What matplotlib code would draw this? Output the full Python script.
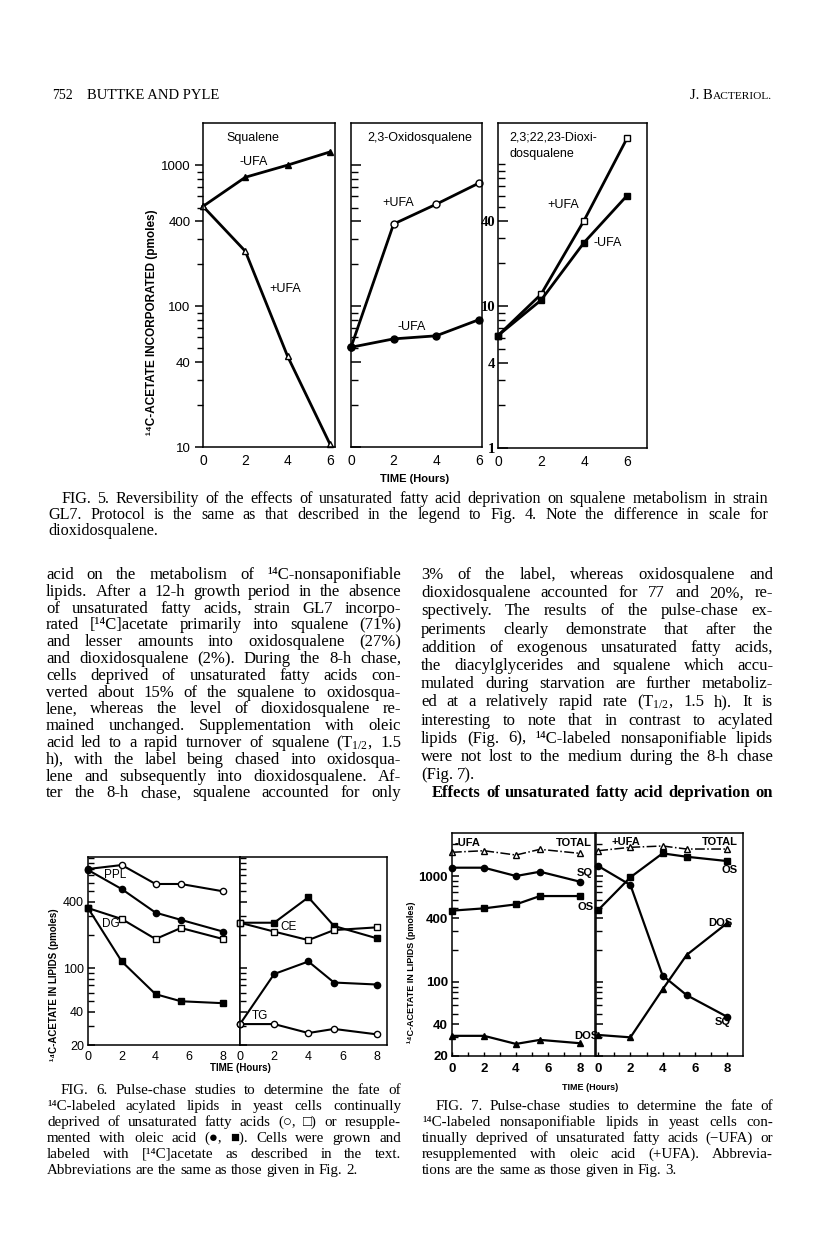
import matplotlib
matplotlib.use('Agg')
import matplotlib.pyplot as plt
from matplotlib.ticker import FixedLocator, FixedFormatter, NullFormatter

W, H = 816, 1242
SERIF = ['Liberation Serif', 'DejaVu Serif', 'DejaVu Sans']
SANS = ['Liberation Sans', 'DejaVu Sans']
NARROW = ['Liberation Sans Narrow', 'Liberation Sans', 'DejaVu Sans']

plt.rcParams['mathtext.fontset'] = 'custom'
plt.rcParams['mathtext.rm'] = 'Liberation Serif'
plt.rcParams['mathtext.it'] = 'Liberation Serif:italic'
plt.rcParams['mathtext.bf'] = 'Liberation Serif:bold'

C14 = "\u00b9\u2074C"

# ---- Fig. 5 data (pmoles) ----
t5 = [0, 2, 4, 6]
sq_minus = [510, 820, 1000, 1240]
sq_plus = [510, 245, 44, 10.5]
os_plus = [51, 382, 528, 745]
os_minus = [51, 58.5, 61.5, 80]
dos_plus = [6.2, 12.1, 40, 152]
dos_minus = [6.2, 11, 28, 60]

# ---- Fig. 6 data ----
t6 = [0, 2, 4, 5.5, 8]
ppl_minus = [798, 867, 583, 583, 500]
ppl_plus = [782, 524, 320, 275, 215]
dg_minus = [352, 280, 184, 232, 184]
dg_plus = [352, 115, 58, 50, 48]
ce_plus = [259, 259, 441, 242, 187]
ce_minus = [259, 215, 180, 222, 235]
tg_plus = [31, 88.5, 115, 74, 71]
tg_minus = [31, 31, 25.7, 28, 25]

# ---- Fig. 7 data ----
t7 = [0, 2, 4, 5.5, 8]
m_total = [1675, 1733, 1578, 1786, 1636]
m_sq = [1198, 1198, 1000, 1098, 884]
m_os = [471, 495, 540, 647, 647]
m_dos = [31, 31, 26, 28.4, 26.4]
p_total = [1733, 1866, 1920, 1798, 1798]
p_os = [478, 973, 1636, 1520, 1385]
p_sq = [1242, 822, 115, 75, 47]
p_dos = [31.6, 30, 85, 180, 358]

# ---- page text ----
left_col = [
    "acid on the metabolism of " + C14 + "-nonsaponifiable",
    "lipids. After a 12-h growth period in the absence",
    "of unsaturated fatty acids, strain GL7 incorpo-",
    "rated [" + C14 + "]acetate primarily into squalene (71%)",
    "and lesser amounts into oxidosqualene (27%)",
    "and dioxidosqualene (2%). During the 8-h chase,",
    "cells deprived of unsaturated fatty acids con-",
    "verted about 15% of the squalene to oxidosqua-",
    "lene, whereas the level of dioxidosqualene re-",
    "mained unchanged. Supplementation with oleic",
    "acid led to a rapid turnover of squalene (T$_{1/2}$, 1.5",
    "h), with the label being chased into oxidosqua-",
    "lene and subsequently into dioxidosqualene. Af-",
    "ter the 8-h chase, squalene accounted for only",
]
right_col = [
    "3% of the label, whereas oxidosqualene and",
    "dioxidosqualene accounted for 77 and 20%, re-",
    "spectively. The results of the pulse-chase ex-",
    "periments clearly demonstrate that after the",
    "addition of exogenous unsaturated fatty acids,",
    "the diacylglycerides and squalene which accu-",
    "mulated during starvation are further metaboliz-",
    "ed at a relatively rapid rate (T$_{1/2}$, 1.5 h). It is",
    "interesting to note that in contrast to acylated",
    "lipids (Fig. 6), " + C14 + "-labeled nonsaponifiable lipids",
    "were not lost to the medium during the 8-h chase",
    "(Fig. 7).",
]
heading = "Effects of unsaturated fatty acid deprivation on"
cap5 = [
    "FIG. 5. Reversibility of the effects of unsaturated fatty acid deprivation on squalene metabolism in strain",
    "GL7. Protocol is the same as that described in the legend to Fig. 4. Note the difference in scale for",
    "dioxidosqualene.",
]
cap6 = [
    "FIG. 6. Pulse-chase studies to determine the fate of",
    C14 + "-labeled acylated lipids in yeast cells continually",
    "deprived of unsaturated fatty acids (\u25cb, \u25a1) or resupple-",
    "mented with oleic acid (\u25cf, \u25a0). Cells were grown and",
    "labeled with [" + C14 + "]acetate as described in the text.",
    "Abbreviations are the same as those given in Fig. 2.",
]
cap7 = [
    "FIG. 7. Pulse-chase studies to determine the fate of",
    C14 + "-labeled nonsaponifiable lipids in yeast cells con-",
    "tinually deprived of unsaturated fatty acids (\u2212UFA) or",
    "resupplemented with oleic acid (+UFA). Abbrevia-",
    "tions are the same as those given in Fig. 3.",
]

fig = plt.figure(figsize=(W / 100, H / 100), dpi=100)
fig.patch.set_facecolor('white')
renderer = fig.canvas.get_renderer()


def fx(x):
    return x / W


def fy(y):
    return 1 - y / H


def ptext(x, y, s, **kw):
    return fig.text(fx(x), fy(y), s, **kw)


def line_text(x0, x1, yb, text, size=10, weight='normal', justify=True, family=SERIF):
    words = text.split()
    n = len(words)
    while True:
        objs = [ptext(x0, yb, w, fontsize=size, fontweight=weight, family=family,
                      va='baseline', ha='left') for w in words]
        widths = [o.get_window_extent(renderer).width for o in objs]
        normal = size * 0.25 * 100 / 72
        if sum(widths) + 1.0 * normal * (n - 1) <= (x1 - x0) or size < 6:
            break
        for o in objs:
            o.remove()
        size -= 0.2
    if justify and n > 1:
        gap = (x1 - x0 - sum(widths)) / (n - 1)
    else:
        gap = normal
    x = x0
    for o, w in zip(objs, widths):
        o.set_x(fx(x))
        x += w + gap


def block(lines, x0, x1, y0, step, size, indent=0, last_justify=False, weight='normal'):
    for i, s in enumerate(lines):
        last = (i == len(lines) - 1)
        line_text(x0 + (indent if i == 0 else 0), x1, y0 + i * step, s, size=size,
                  justify=(not last) or last_justify, weight=weight)


def add_ax(x0, y0, x1, y1):
    ax = fig.add_axes([x0 / W, 1 - y1 / H, (x1 - x0) / W, (y1 - y0) / H])
    ax.set_yscale('log')
    for sp in ax.spines.values():
        sp.set_linewidth(1.1)
    return ax


def log_ticks(ax, lo, hi, labels, direction='in', majlen=6, minlen=4, show=True):
    minors = [m * 10 ** e for e in range(-1, 5) for m in range(1, 10)
              if lo <= m * 10 ** e <= hi and m * 10 ** e not in labels]
    ax.yaxis.set_major_locator(FixedLocator(labels))
    if show:
        ax.yaxis.set_major_formatter(FixedFormatter([str(v) for v in labels]))
    else:
        ax.yaxis.set_major_formatter(NullFormatter())
    ax.yaxis.set_minor_locator(FixedLocator(minors))
    ax.yaxis.set_minor_formatter(NullFormatter())
    ax.tick_params(axis='y', which='major', direction=direction, length=majlen, width=1.1)
    ax.tick_params(axis='y', which='minor', direction=direction, length=minlen, width=1.0)


# ---------------- header ----------------
ptext(52, 99, "752", fontsize=10, family=SERIF, va='baseline')
ptext(87, 99, "BUTTKE AND PYLE", fontsize=10.5, family=SERIF, va='baseline')
tj = ptext(690, 99, "J. B", fontsize=10.5, family=SERIF, va='baseline')
wj = tj.get_window_extent(renderer).width
ptext(690 + wj, 99, "ACTERIOL.", fontsize=8.2, family=SERIF, va='baseline')

# ---------------- Fig. 5 ----------------
lw5 = 2.0
ms5 = 5
a1 = add_ax(203, 123, 335, 447)
a1.plot(t5, sq_minus, '-^', color='k', lw=lw5, ms=ms5, mfc='k', clip_on=False)
a1.plot(t5, sq_plus, '-^', color='k', lw=lw5, ms=ms5, mfc='white', clip_on=False)
a1.set_xlim(0, 6.24)
a1.set_ylim(10, 1990)
log_ticks(a1, 10, 1990, [10, 40, 100, 400, 1000], direction='out', majlen=6, minlen=4)

a2 = add_ax(351, 123, 482, 447)
a2.plot(t5, os_plus, '-o', color='k', lw=lw5, ms=ms5, mfc='white', clip_on=False)
a2.plot(t5, os_minus, '-o', color='k', lw=lw5, ms=ms5, mfc='k', clip_on=False)
a2.set_xlim(0, 6.15)
a2.set_ylim(10, 1990)
log_ticks(a2, 10, 1990, [10, 40, 100, 400, 1000], direction='in', majlen=7, minlen=5, show=False)

a3 = add_ax(498, 123, 647, 448)
a3.plot(t5, dos_plus, '-s', color='k', lw=lw5, ms=ms5, mfc='white', clip_on=False)
a3.plot(t5, dos_minus, '-s', color='k', lw=lw5, ms=ms5, mfc='k', clip_on=False)
a3.set_xlim(0, 6.93)
a3.set_ylim(1, 195)
log_ticks(a3, 1, 195, [1, 4, 10, 40], direction='in', majlen=7, minlen=5)

for ax in (a1, a2, a3):
    ax.set_xticks([0, 2, 4, 6])
    ax.tick_params(axis='x', length=0, pad=5, labelsize=10)
    ax.tick_params(axis='y', labelsize=9.5, pad=3)
    for lab in ax.get_xticklabels() + ax.get_yticklabels():
        lab.set_family(SANS)
a3.tick_params(axis='y', labelsize=10.5, pad=2)
for lab in a3.get_yticklabels():
    lab.set_fontweight('bold')
    lab.set_family(SERIF)

ptext(152, 322, C14 + "-ACETATE INCORPORATED (pmoles)", rotation=90, fontsize=8.5,
      fontweight='bold', family=NARROW, ha='center', va='center')
ptext(415, 479, "TIME (Hours)", fontsize=8, fontweight='bold', family=NARROW,
      ha='center', va='center')
f5 = dict(fontsize=9, family=SANS, va='center')
ptext(226, 138, "Squalene", **f5)
ptext(240, 162, "-UFA", **f5)
ptext(269, 289, "+UFA", **f5)
ptext(367, 138, "2,3-Oxidosqualene", **f5)
ptext(382, 203, "+UFA", **f5)
ptext(398, 327, "-UFA", **f5)
ptext(509, 138, "2,3;22,23-Dioxi-", **f5)
ptext(509, 154, "dosqualene", **f5)
ptext(547, 205, "+UFA", **f5)
ptext(593, 243, "-UFA", **f5)

block(cap5, 48, 768, 503, 16, 11.6, indent=13)

# ---------------- body text ----------------
block(left_col, 46, 401, 579, 16.8, 12.0, last_justify=True)
rstep = (13 * 16.8) / 12
block(right_col, 421, 773, 579, rstep, 12.0)
line_text(432, 773, 579 + 13 * 16.8, heading, size=12.0, weight='bold')

# ---------------- Fig. 6 ----------------
lw6 = 1.5
ms6 = 4.5
b1 = add_ax(88, 857, 240, 1045)
b1.plot(t6, ppl_minus, '-o', color='k', lw=lw6, ms=ms6, mfc='white', clip_on=False)
b1.plot(t6, ppl_plus, '-o', color='k', lw=lw6, ms=ms6, mfc='k', clip_on=False)
b1.plot(t6, dg_minus, '-s', color='k', lw=lw6, ms=ms6, mfc='white', clip_on=False)
b1.plot(t6, dg_plus, '-s', color='k', lw=lw6, ms=ms6, mfc='k', clip_on=False)
b1.set_xlim(0, 9)
b2 = add_ax(240, 857, 387, 1045)
b2.plot(t6, ce_plus, '-s', color='k', lw=lw6, ms=ms6, mfc='k', clip_on=False)
b2.plot(t6, ce_minus, '-s', color='k', lw=lw6, ms=ms6, mfc='white', clip_on=False)
b2.plot(t6, tg_plus, '-o', color='k', lw=lw6, ms=ms6, mfc='k', clip_on=False)
b2.plot(t6, tg_minus, '-o', color='k', lw=lw6, ms=ms6, mfc='white', clip_on=False)
b2.set_xlim(0, 8.6)
for ax, show in ((b1, True), (b2, False)):
    ax.set_ylim(20, 1026)
    log_ticks(ax, 20, 1026, [20, 40, 100, 400], direction='in', majlen=5, minlen=4, show=show)
    ax.set_xticks([0, 2, 4, 6, 8])
    ax.tick_params(axis='x', length=0, pad=4, labelsize=9)
    ax.tick_params(axis='y', labelsize=9, pad=3)
    for lab in ax.get_xticklabels() + ax.get_yticklabels():
        lab.set_family(SANS)
ptext(54, 985, C14 + "-ACETATE IN LIPIDS (pmoles)", rotation=90, fontsize=7,
      fontweight='bold', family=NARROW, ha='center', va='center')
ptext(240, 1068, "TIME (Hours)", fontsize=7, fontweight='bold', family=NARROW,
      ha='center', va='center')
f6 = dict(fontsize=8.5, family=SANS, va='center')
ptext(104, 875, "PPL", **f6)
ptext(102, 924, "DG", **f6)
ptext(280, 927, "CE", **f6)
ptext(252, 1016, "TG", **f6)

block(cap6, 47, 401, 1094, 16, 10.8, indent=14)

# ---------------- Fig. 7 ----------------
lw7 = 1.6
ms7 = 4.5
c1 = add_ax(452, 833, 595, 1056)
c1.plot(t7, m_total, '-.^', color='k', lw=1.1, ms=ms7, mfc='white', clip_on=False)
c1.plot(t7, m_sq, '-o', color='k', lw=lw7, ms=ms7, mfc='k', clip_on=False)
c1.plot(t7, m_os, '-s', color='k', lw=lw7, ms=ms7, mfc='k', clip_on=False)
c1.plot(t7, m_dos, '-^', color='k', lw=lw7, ms=ms7, mfc='k', clip_on=False)
c1.set_xlim(0, 8.94)
c2 = add_ax(596, 833, 743, 1056)
c2.plot(t7, p_total, '-.^', color='k', lw=1.1, ms=ms7, mfc='white', clip_on=False)
c2.plot(t7, p_os, '-s', color='k', lw=lw7, ms=ms7, mfc='k', clip_on=False)
c2.plot(t7, p_sq, '-o', color='k', lw=lw7, ms=ms7, mfc='k', clip_on=False)
c2.plot(t7, p_dos, '-^', color='k', lw=lw7, ms=ms7, mfc='k', clip_on=False)
c2.set_xlim(-0.14, 9.0)
for ax, show in ((c1, True), (c2, False)):
    ax.set_ylim(20, 2547)
    log_ticks(ax, 20, 2547, [20, 40, 100, 400, 1000], direction='in', majlen=5, minlen=4, show=show)
    ax.set_xticks([0, 2, 4, 6, 8])
    ax.xaxis.set_minor_locator(FixedLocator([1, 3, 5, 7]))
    ax.tick_params(axis='x', which='both', direction='in', length=3, width=1.0, pad=5, labelsize=9.5)
    ax.tick_params(axis='y', labelsize=9.5, pad=3)
    for lab in ax.get_xticklabels() + ax.get_yticklabels():
        lab.set_family(SANS)
        lab.set_fontweight('bold')
ptext(412, 972, C14 + "-ACETATE IN LIPIDS (pmoles)", rotation=90, fontsize=6.5,
      fontweight='bold', family=NARROW, ha='center', va='center')
ptext(590, 1088, "TIME (Hours)", fontsize=6.5, fontweight='bold', family=NARROW,
      ha='center', va='center')
f7 = dict(fontsize=8, family=SANS, fontweight='bold', va='center')
ptext(455, 843, "-UFA", **f7)
ptext(592, 843, "TOTAL", ha='right', **f7)
ptext(577, 873, "SQ", **f7)
ptext(577, 907, "OS", **f7)
ptext(574, 1036, "DOS", **f7)
ptext(612, 842, "+UFA", **f7)
ptext(738, 842, "TOTAL", ha='right', **f7)
ptext(722, 870, "OS", **f7)
ptext(708, 923, "DOS", **f7)
ptext(715, 1022, "SQ", **f7)

block(cap7, 422, 773, 1110, 16, 10.8, indent=14)

fig.savefig('out.png', dpi=100, facecolor='white')
